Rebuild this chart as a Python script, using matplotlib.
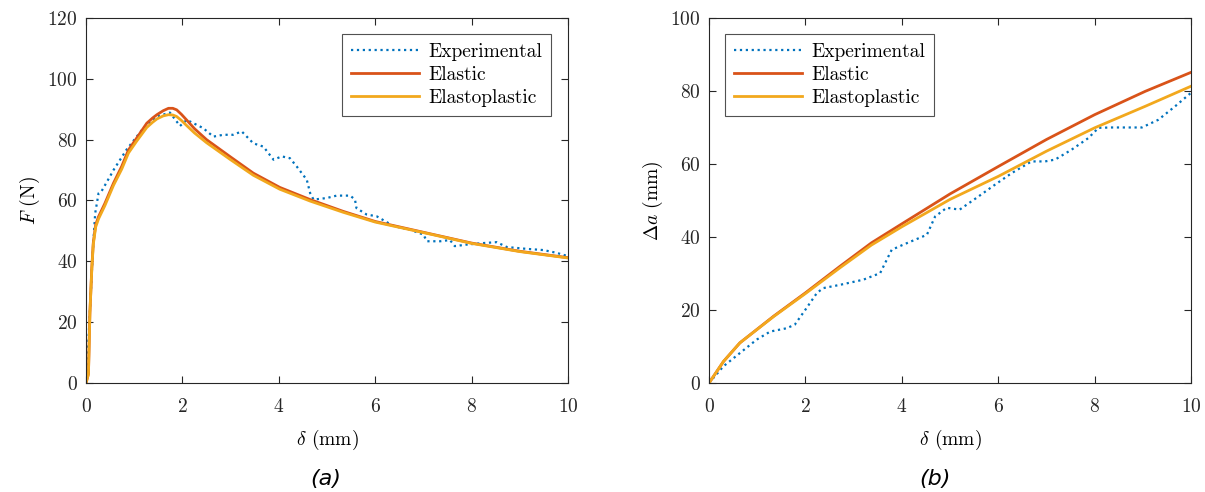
import numpy as np
import matplotlib
matplotlib.use('Agg')
import matplotlib.pyplot as plt

plt.rcParams['font.family'] = 'serif'
plt.rcParams['font.serif'] = ['cmr10']
plt.rcParams['mathtext.fontset'] = 'cm'
plt.rcParams['axes.formatter.use_mathtext'] = True

# (a) force vs displacement
exp_f_x = [0, 0.05, 0.1, 0.15, 0.19, 0.26, 0.32, 0.5, 0.57, 0.84, 1.19, 1.47, 1.74, 1.95, 2.09, 2.43,
           2.64, 2.85, 3.05, 3.23, 3.47, 3.68, 3.89, 4.06, 4.23, 4.37, 4.58, 4.65, 4.72, 4.99,
           5.2, 5.48, 5.58, 5.61, 5.82, 6.03, 6.38, 6.72, 7.0, 7.07, 7.35, 7.55, 7.65, 7.9,
           8.24, 8.52, 8.73, 9.14, 9.49, 9.76, 10.0]
exp_f_y = [0, 14, 30, 46, 55.8, 62.4, 63, 68, 70, 76.7, 83.8, 87.6, 88.9, 84.5, 86.5, 83.8,
           81, 81.6, 81.6, 82.7, 78.8, 77.7, 73.4, 74.5, 73.9, 71.2, 66.8, 62.4, 60.3, 60.8,
           61.6, 61.6, 60.3, 57.5, 55.4, 54.8, 51.6, 50.4, 48.8, 46.6, 46.6, 47, 45, 45.5,
           46, 46.3, 44.7, 44.1, 43.7, 42.8, 41.7]

mod_f_x = [0, 0.05, 0.08, 0.12, 0.15, 0.2, 0.26, 0.39, 0.57, 0.74, 0.88, 1.05, 1.26, 1.38, 1.47,
           1.6, 1.71, 1.8, 1.88, 1.98, 2.09, 2.25, 2.5, 2.99, 3.47, 4.02, 4.65, 5.34, 6.0,
           7.07, 8.0, 9.0, 10.0]
elastic_f = [0, 3, 23, 38, 46, 52, 54.7, 59, 65.7, 71.2, 76.6, 80.5, 85.4, 87.1, 88.2,
             89.5, 90.3, 90.3, 89.8, 88.3, 86.4, 83.6, 80, 74.4, 69, 64.3, 60.3, 56.4, 53.1,
             49.3, 46, 43.3, 41.2]
elastoplastic_f = [0, 3, 23, 37.5, 45.5, 51.3, 54, 58.3, 65, 70.3, 75.6, 79.5, 84, 85.7, 86.8,
                   87.8, 88.2, 88.1, 87.6, 86.3, 84.6, 82.2, 79, 73.5, 68.3, 63.7, 59.8, 56.1, 52.9,
                   49.2, 45.9, 43.2, 41.1]

# (b) crack extension vs displacement
exp_a_x = [0, 0.3, 0.64, 0.99, 1.27, 1.61, 1.78, 2.0, 2.24, 2.37, 2.72, 3.2, 3.55, 3.79, 4.03,
           4.52, 4.69, 4.93, 5.2, 5.59, 5.93, 6.28, 6.69, 6.97, 7.18, 7.52, 7.87, 8.08, 8.35,
           8.98, 9.32, 9.67, 10.0]
exp_a_y = [0, 4.6, 8.2, 11.9, 14.1, 15, 16, 20.1, 24.7, 26, 26.9, 28.3, 30.1, 36.5, 37.9,
           40.6, 45.6, 48, 47.5, 51.1, 54.3, 57.5, 60.7, 60.7, 61.2, 63.9, 67.1, 69.9, 70,
           70, 72.1, 75.8, 79.5]

mod_a_x = [0, 0.3, 0.64, 1.34, 2.0, 2.72, 3.37, 4.0, 5.0, 6.0, 7.0, 8.0, 9.05, 10.0]
elastic_a = [0, 5.9, 11, 18.3, 24.7, 32, 38.4, 43.6, 51.8, 59.3, 66.7, 73.5, 79.9, 85.1]
elastoplastic_a = [0, 5.9, 11, 18.2, 24.5, 31.6, 37.8, 42.8, 50.3, 56.6, 63.5, 69.9, 75.8, 81.3]

c_exp = '#0072BD'
c_el = '#D95319'
c_ep = '#F2A81D'

leg_kw = dict(fontsize=14, frameon=True, fancybox=False, edgecolor='#262626',
              handlelength=3.5, borderaxespad=0, labelspacing=0.25, handletextpad=0.5,
              borderpad=0.45)

fig = plt.figure(figsize=(12.05, 4.92), dpi=100)
ax1 = fig.add_axes([0.0714, 0.2215, 0.400, 0.742])
ax2 = fig.add_axes([0.5884, 0.2215, 0.400, 0.742])

ax1.plot(exp_f_x, exp_f_y, ':', color=c_exp, lw=1.6, label='Experimental')
ax1.plot(mod_f_x, elastic_f, '-', color=c_el, lw=2, label='Elastic')
ax1.plot(mod_f_x, elastoplastic_f, '-', color=c_ep, lw=2, label='Elastoplastic')
ax1.set_xlim(0, 10)
ax1.set_ylim(0, 120)
ax1.set_yticks(np.arange(0, 121, 20))
ax1.set_ylabel(r'$F$ (N)', fontsize=14)
ax1.legend(loc='upper right', bbox_to_anchor=(0.965, 0.955), **leg_kw)

ax2.plot(exp_a_x, exp_a_y, ':', color=c_exp, lw=1.6, label='Experimental')
ax2.plot(mod_a_x, elastic_a, '-', color=c_el, lw=2, label='Elastic')
ax2.plot(mod_a_x, elastoplastic_a, '-', color=c_ep, lw=2, label='Elastoplastic')
ax2.set_xlim(0, 10)
ax2.set_ylim(0, 100)
ax2.set_yticks(np.arange(0, 101, 20))
ax2.set_ylabel(r'$\Delta a$ (mm)', fontsize=14)
ax2.legend(loc='upper left', bbox_to_anchor=(0.033, 0.955), **leg_kw)

for ax in (ax1, ax2):
    ax.set_xticks([0, 2, 4, 6, 8, 10])
    ax.set_xlabel(r'$\delta$ (mm)', fontsize=14, labelpad=8)
    ax.tick_params(direction='in', top=True, right=True, labelsize=14, colors='#262626',
                   length=5)
    ax.tick_params(axis='x', pad=11)
    ax.tick_params(axis='y', pad=6)
    for s in ax.spines.values():
        s.set_color('#262626')
        s.set_linewidth(0.8)
    ax.legend_.get_frame().set_linewidth(0.8)

fig.text(0.27, 0.015, '(a)', fontsize=16, style='italic', family='DejaVu Sans', ha='center')
fig.text(0.776, 0.015, '(b)', fontsize=16, style='italic', family='DejaVu Sans', ha='center')

fig.savefig('out.png', dpi=100)
